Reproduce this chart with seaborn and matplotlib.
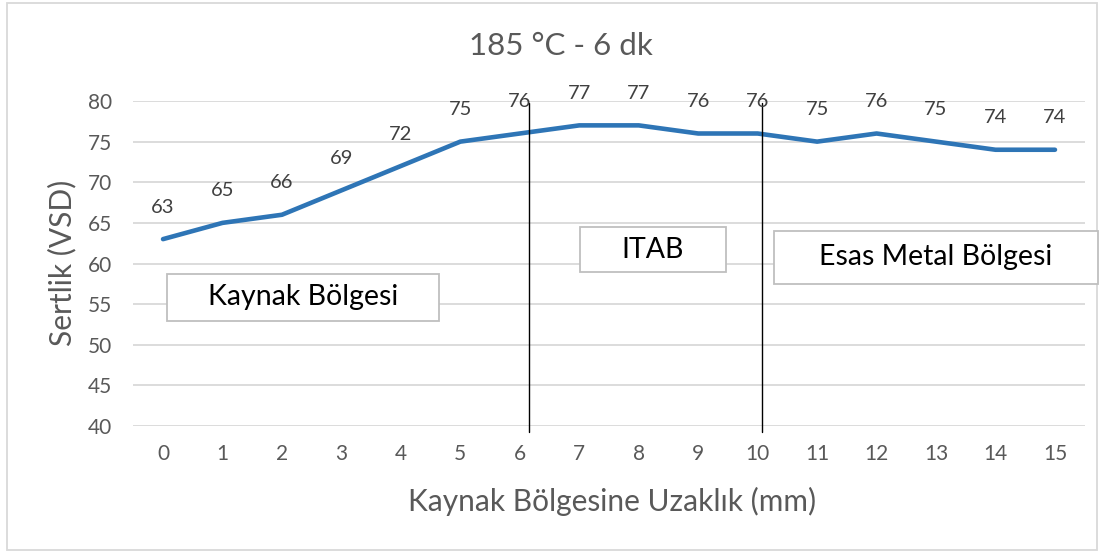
import matplotlib
matplotlib.use("Agg")
import matplotlib.pyplot as plt
import matplotlib.transforms as mtransforms
from matplotlib.patches import Rectangle
import seaborn as sns
import pandas as pd

# ---- data ----
distances = ["0", "1", "2", "3", "4", "5", "6", "7", "8", "9", "10", "11", "12", "13", "14", "15"]
hardness = [63, 65, 66, 69, 72, 75, 76, 77, 77, 76, 76, 75, 76, 75, 74, 74]
y_ticks = [40, 45, 50, 55, 60, 65, 70, 75, 80]
title_text = "185 °C - 6 dk"
x_label = "Kaynak Bölgesine Uzaklık (mm)"
y_label = "Sertlik (VSD)"
zone_labels = ["Kaynak Bölgesi", "ITAB", "Esas Metal Bölgesi"]
zone_bounds = [6.16, 10.07]   # boundary lines between zones (category units)

sns.set_theme(style="white")
plt.rcParams["font.family"] = ["Lato", "DejaVu Sans"]

W, H = 1105, 553
fig = plt.figure(figsize=(W / 100, H / 100), dpi=100)

def fx(px):
    return px / W

def fy(py):
    return 1 - py / H

ax = fig.add_axes([fx(133.3), fy(426), fx(1084.7) - fx(133.3), fy(101) - fy(426)])

df = pd.DataFrame({"pos": list(range(len(distances))), "hardness": hardness})
sns.lineplot(data=df, x="pos", y="hardness", ax=ax, color="#2E75B6", linewidth=3.3,
             solid_capstyle="round", solid_joinstyle="round")

ax.set_xlim(-0.5, len(distances) - 0.5)
ax.set_ylim(40, 80)
ax.set_yticks(y_ticks)
ax.set_xticks(range(len(distances)))
ax.set_xticklabels(distances)
ax.grid(axis="y", color="#D9D9D9", linewidth=1.3)
ax.grid(axis="x", visible=False)
for s in ax.spines.values():
    s.set_visible(False)
ax.tick_params(axis="both", length=0, labelsize=15, labelcolor="#595959")
ax.tick_params(axis="y", pad=15)
ax.tick_params(axis="x", pad=13)
ax.set_xlabel("")
ax.set_ylabel("")

for i, v in enumerate(hardness):
    ax.annotate(str(v), (i, v), xytext=(0, 32), textcoords="offset pixels",
                ha="center", va="center", fontsize=14.5, color="#404040")

# zone boundary lines
trans = mtransforms.blended_transform_factory(ax.transData, ax.transAxes)
for xb in zone_bounds:
    ax.plot([xb, xb], [-0.018, 0.994], transform=trans, color="black", linewidth=1.0,
            clip_on=False)

# titles
fig.text(fx(561), fy(46), title_text, ha="center", va="center", fontsize=22.5, color="#595959")
fig.text(fx(612), fy(501), x_label, ha="center", va="center", fontsize=21.5, color="#595959")
fig.text(fx(62), fy(263), y_label, ha="center", va="center", rotation=90, fontsize=21.5,
         color="#595959")

# zone text boxes
boxes = [(167, 274, 439, 321), (580, 227, 726, 272), (774, 231, 1098, 284)]
for (x0, y0, x1, y1), lab in zip(boxes, zone_labels):
    fig.add_artist(Rectangle((fx(x0), fy(y1)), fx(x1) - fx(x0), fy(y0) - fy(y1),
                             transform=fig.transFigure, facecolor="white",
                             edgecolor="#BFBFBF", linewidth=1.3, zorder=5))
    fig.text(fx((x0 + x1) / 2), fy((y0 + y1) / 2), lab, ha="center", va="center",
             fontsize=20.5, color="black", zorder=6)

# outer chart border
fig.add_artist(Rectangle((fx(7), fy(550)), fx(1097) - fx(7), fy(3) - fy(550),
                         transform=fig.transFigure, fill=False, edgecolor="#D9D9D9",
                         linewidth=1.3))

fig.savefig("out.png", dpi=100)
